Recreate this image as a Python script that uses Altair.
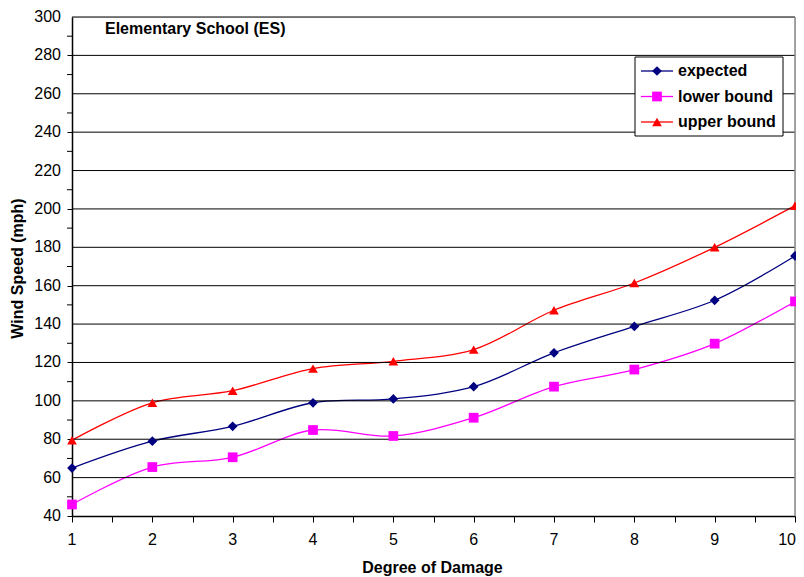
import altair as alt
import pandas as pd

degree = [1, 2, 3, 4, 5, 6, 7, 8, 9, 10]
expected = [65, 79, 86.7, 99, 101, 107.4, 125, 138.8, 152.4, 175.5]
lower = [46, 65.5, 70.6, 84.8, 81.7, 91.2, 107.4, 116.3, 129.8, 151.8]
upper = [79.5, 99, 105.3, 116.8, 120.6, 126.7, 147.2, 161.4, 180, 201.7]
series_names = ["expected", "lower bound", "upper bound"]
colors = ["#000080", "#FF00FF", "#FF0000"]
shapes = ["diamond", "square", "triangle-up"]
x_ticks = [v / 2 for v in range(2, 21)]
x_labels = list(range(1, 10))
x_last_label = [10]
y_labels = list(range(40, 301, 20))
y_minor = list(range(50, 300, 20))
grid_values = list(range(60, 301, 20))

rows = []
for name, vals in zip(series_names, [expected, lower, upper]):
    for d, v in zip(degree, vals):
        rows.append({"degree": d, "speed": v, "series": name})
df = pd.DataFrame(rows)

FONT = "Liberation Sans"
W, H = 723, 499

xscale = alt.Scale(domain=[1, 10], nice=False, zero=False)
yscale = alt.Scale(domain=[40, 300], nice=False, zero=False)
color_scale = alt.Scale(domain=series_names, range=colors)
shape_scale = alt.Scale(domain=series_names, range=shapes)

x_axis = alt.Axis(values=x_ticks, labels=False, title=None, grid=False,
                  tickSize=6, tickColor="#000", domainColor="#000",
                  domainWidth=1.5)
y_axis = alt.Axis(values=y_labels, labels=False, title=None, grid=False,
                  tickSize=5, tickColor="#000", domainColor="#000",
                  domainWidth=1.5)

base = alt.Chart(df)

lines = base.mark_line(strokeWidth=1.3, interpolate="catmull-rom").encode(
    x=alt.X("degree:Q", scale=xscale, axis=x_axis),
    y=alt.Y("speed:Q", scale=yscale, axis=y_axis),
    color=alt.Color("series:N", scale=color_scale, legend=None),
    detail="series:N",
)

grid = alt.Chart(pd.DataFrame({"g": grid_values})).mark_rule(
    color="#000000", strokeWidth=1
).encode(
    y=alt.Y("g:Q", scale=yscale),
    x=alt.value(0), x2=alt.value(W),
)

minor_ticks = alt.Chart(pd.DataFrame({"m": y_minor})).mark_rule(
    color="#000000", strokeWidth=1
).encode(
    y=alt.Y("m:Q", scale=yscale),
    x=alt.value(-5), x2=alt.value(0),
)

y_label_text = alt.Chart(pd.DataFrame({"v": y_labels})).mark_text(
    font=FONT, fontSize=16, align="right", baseline="middle", color="#000"
).encode(
    y=alt.Y("v:Q", scale=yscale),
    x=alt.value(-11),
    text=alt.Text("v:Q", format="d"),
)

x_label_text = alt.Chart(pd.DataFrame({"v": x_labels})).mark_text(
    font=FONT, fontSize=16, align="center", baseline="middle", color="#000"
).encode(
    x=alt.X("v:Q", scale=xscale),
    y=alt.value(H + 24),
    text=alt.Text("v:Q", format="d"),
)

x_last_text = alt.Chart(pd.DataFrame({"v": x_last_label})).mark_text(
    font=FONT, fontSize=16, align="right", baseline="middle", color="#000", dx=1
).encode(
    x=alt.X("v:Q", scale=xscale),
    y=alt.value(H + 24),
    text=alt.Text("v:Q", format="d"),
)

x_title = alt.Chart(pd.DataFrame({"t": ["Degree of Damage"]})).mark_text(
    font=FONT, fontSize=16, fontWeight="bold", align="center", baseline="middle",
    color="#000"
).encode(text="t:N", x=alt.value(W / 2 - 1), y=alt.value(H + 52))

y_title = alt.Chart(pd.DataFrame({"t": ["Wind Speed (mph)"]})).mark_text(
    font=FONT, fontSize=16, fontWeight="bold", align="center", baseline="middle",
    color="#000", angle=270
).encode(text="t:N", x=alt.value(-54), y=alt.value(H / 2 + 2))

right_border = alt.Chart(pd.DataFrame({"a": [0]})).mark_rule(
    color="#888888", strokeWidth=1.5
).encode(x=alt.value(W), y=alt.value(0), y2=alt.value(H))

points = base.mark_point(filled=True, opacity=1, size=95).encode(
    x=alt.X("degree:Q", scale=xscale),
    y=alt.Y("speed:Q", scale=yscale),
    color=alt.Color("series:N", scale=color_scale, legend=None),
    shape=alt.Shape("series:N", scale=shape_scale, legend=None),
)

title_txt = alt.Chart(pd.DataFrame({"t": ["Elementary School (ES)"]})).mark_text(
    font=FONT, fontSize=16, fontWeight="bold", align="left", baseline="middle", color="#000"
).encode(text="t:N", x=alt.value(33), y=alt.value(12))

# legend
LX0, LX1, LY0, LY1 = 563, 711, 40, 119
legend_box = alt.Chart(pd.DataFrame({"a": [0]})).mark_rect(
    fill="white", stroke="#000", strokeWidth=1
).encode(x=alt.value(LX0), x2=alt.value(LX1), y=alt.value(LY0), y2=alt.value(LY1))

leg_df = pd.DataFrame({"series": series_names})
leg_y = alt.Y("series:N", scale=alt.Scale(type="point", domain=series_names,
                                          range=[54, 105], padding=0), axis=None)
leg_lines = alt.Chart(leg_df).mark_rule(strokeWidth=1.3).encode(
    y=leg_y, x=alt.value(569), x2=alt.value(601),
    color=alt.Color("series:N", scale=color_scale, legend=None),
)
leg_pts = alt.Chart(leg_df).mark_point(filled=True, opacity=1, size=95).encode(
    y=leg_y, x=alt.value(585),
    color=alt.Color("series:N", scale=color_scale, legend=None),
    shape=alt.Shape("series:N", scale=shape_scale, legend=None),
)
leg_text = alt.Chart(leg_df).mark_text(
    font=FONT, fontSize=16, fontWeight="bold", align="left", baseline="middle", color="#000"
).encode(y=leg_y, x=alt.value(606), text="series:N")

legend = alt.layer(legend_box, leg_lines, leg_pts, leg_text)

main = alt.layer(lines, grid, minor_ticks, y_label_text, x_label_text, x_last_text,
                 x_title, y_title, right_border, points, title_txt)

chart = alt.layer(main, legend).resolve_scale(y="independent").properties(
    width=W, height=H,
    autosize=alt.AutoSizeParams(type="none"),
    padding={"left": 64, "top": 9, "right": 1, "bottom": 60},
).configure_view(stroke=None).configure(background="white")

chart.save("out.html", embed_options={"renderer": "svg", "actions": False})
